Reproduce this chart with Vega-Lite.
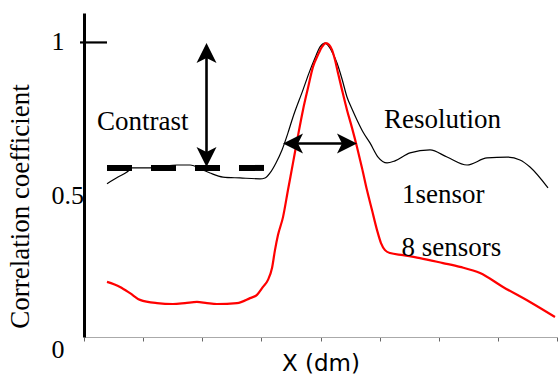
{
  "$schema": "https://vega.github.io/schema/vega-lite/v6.json",
  "width": 473,
  "height": 324,
  "autosize": {"type": "none"},
  "padding": {"left": 84, "top": 13, "right": 1, "bottom": 39},
  "config": {"view": {"stroke": null}, "background": "white"},
  "datasets": {
    "curves": [
      {"series": "1sensor", "x": 0.389, "y": 0.520},
      {"series": "1sensor", "x": 0.575, "y": 0.543},
      {"series": "1sensor", "x": 0.727, "y": 0.560},
      {"series": "1sensor", "x": 0.812, "y": 0.574},
      {"series": "1sensor", "x": 1.116, "y": 0.574},
      {"series": "1sensor", "x": 1.370, "y": 0.581},
      {"series": "1sensor", "x": 1.573, "y": 0.584},
      {"series": "1sensor", "x": 1.793, "y": 0.584},
      {"series": "1sensor", "x": 2.013, "y": 0.567},
      {"series": "1sensor", "x": 2.131, "y": 0.557},
      {"series": "1sensor", "x": 2.351, "y": 0.543},
      {"series": "1sensor", "x": 2.638, "y": 0.540},
      {"series": "1sensor", "x": 2.977, "y": 0.537},
      {"series": "1sensor", "x": 3.061, "y": 0.540},
      {"series": "1sensor", "x": 3.146, "y": 0.557},
      {"series": "1sensor", "x": 3.247, "y": 0.591},
      {"series": "1sensor", "x": 3.349, "y": 0.635},
      {"series": "1sensor", "x": 3.450, "y": 0.693},
      {"series": "1sensor", "x": 3.535, "y": 0.747},
      {"series": "1sensor", "x": 3.704, "y": 0.839},
      {"series": "1sensor", "x": 3.805, "y": 0.896},
      {"series": "1sensor", "x": 3.907, "y": 0.947},
      {"series": "1sensor", "x": 3.992, "y": 0.985},
      {"series": "1sensor", "x": 4.076, "y": 0.998},
      {"series": "1sensor", "x": 4.178, "y": 0.975},
      {"series": "1sensor", "x": 4.279, "y": 0.930},
      {"series": "1sensor", "x": 4.364, "y": 0.876},
      {"series": "1sensor", "x": 4.448, "y": 0.815},
      {"series": "1sensor", "x": 4.533, "y": 0.774},
      {"series": "1sensor", "x": 4.617, "y": 0.737},
      {"series": "1sensor", "x": 4.719, "y": 0.696},
      {"series": "1sensor", "x": 4.837, "y": 0.659},
      {"series": "1sensor", "x": 4.973, "y": 0.611},
      {"series": "1sensor", "x": 5.125, "y": 0.591},
      {"series": "1sensor", "x": 5.260, "y": 0.598},
      {"series": "1sensor", "x": 5.514, "y": 0.625},
      {"series": "1sensor", "x": 5.852, "y": 0.635},
      {"series": "1sensor", "x": 6.140, "y": 0.611},
      {"series": "1sensor", "x": 6.478, "y": 0.584},
      {"series": "1sensor", "x": 6.816, "y": 0.608},
      {"series": "1sensor", "x": 7.154, "y": 0.611},
      {"series": "1sensor", "x": 7.374, "y": 0.601},
      {"series": "1sensor", "x": 7.543, "y": 0.577},
      {"series": "1sensor", "x": 7.848, "y": 0.506},
      {"series": "8 sensors", "x": 0.389, "y": 0.187},
      {"series": "8 sensors", "x": 0.609, "y": 0.170},
      {"series": "8 sensors", "x": 0.778, "y": 0.149},
      {"series": "8 sensors", "x": 0.947, "y": 0.126},
      {"series": "8 sensors", "x": 1.235, "y": 0.115},
      {"series": "8 sensors", "x": 1.505, "y": 0.112},
      {"series": "8 sensors", "x": 1.708, "y": 0.115},
      {"series": "8 sensors", "x": 1.911, "y": 0.119},
      {"series": "8 sensors", "x": 2.080, "y": 0.115},
      {"series": "8 sensors", "x": 2.249, "y": 0.112},
      {"series": "8 sensors", "x": 2.588, "y": 0.115},
      {"series": "8 sensors", "x": 2.808, "y": 0.132},
      {"series": "8 sensors", "x": 2.926, "y": 0.143},
      {"series": "8 sensors", "x": 3.027, "y": 0.170},
      {"series": "8 sensors", "x": 3.112, "y": 0.194},
      {"series": "8 sensors", "x": 3.180, "y": 0.234},
      {"series": "8 sensors", "x": 3.230, "y": 0.295},
      {"series": "8 sensors", "x": 3.281, "y": 0.346},
      {"series": "8 sensors", "x": 3.366, "y": 0.407},
      {"series": "8 sensors", "x": 3.450, "y": 0.499},
      {"series": "8 sensors", "x": 3.535, "y": 0.591},
      {"series": "8 sensors", "x": 3.619, "y": 0.683},
      {"series": "8 sensors", "x": 3.704, "y": 0.771},
      {"series": "8 sensors", "x": 3.789, "y": 0.846},
      {"series": "8 sensors", "x": 3.873, "y": 0.917},
      {"series": "8 sensors", "x": 3.958, "y": 0.958},
      {"series": "8 sensors", "x": 4.025, "y": 0.985},
      {"series": "8 sensors", "x": 4.093, "y": 0.998},
      {"series": "8 sensors", "x": 4.144, "y": 0.992},
      {"series": "8 sensors", "x": 4.195, "y": 0.975},
      {"series": "8 sensors", "x": 4.245, "y": 0.941},
      {"series": "8 sensors", "x": 4.296, "y": 0.896},
      {"series": "8 sensors", "x": 4.364, "y": 0.839},
      {"series": "8 sensors", "x": 4.448, "y": 0.771},
      {"series": "8 sensors", "x": 4.533, "y": 0.710},
      {"series": "8 sensors", "x": 4.617, "y": 0.645},
      {"series": "8 sensors", "x": 4.702, "y": 0.574},
      {"series": "8 sensors", "x": 4.786, "y": 0.499},
      {"series": "8 sensors", "x": 4.871, "y": 0.431},
      {"series": "8 sensors", "x": 4.956, "y": 0.363},
      {"series": "8 sensors", "x": 5.023, "y": 0.319},
      {"series": "8 sensors", "x": 5.091, "y": 0.295},
      {"series": "8 sensors", "x": 5.175, "y": 0.285},
      {"series": "8 sensors", "x": 5.395, "y": 0.278},
      {"series": "8 sensors", "x": 5.683, "y": 0.268},
      {"series": "8 sensors", "x": 6.072, "y": 0.251},
      {"series": "8 sensors", "x": 6.359, "y": 0.238},
      {"series": "8 sensors", "x": 6.698, "y": 0.217},
      {"series": "8 sensors", "x": 7.087, "y": 0.170},
      {"series": "8 sensors", "x": 7.543, "y": 0.119},
      {"series": "8 sensors", "x": 7.966, "y": 0.068}
    ],
    "notes": [
      {"label": "Contrast", "x": 0.220, "y": 0.703},
      {"label": "Resolution", "x": 5.074, "y": 0.710},
      {"label": "1sensor", "x": 5.378, "y": 0.455},
      {"label": "8 sensors", "x": 5.370, "y": 0.275}
    ],
    "dash": [{"x": 0.389, "x2": 3.061, "y": 0.574}],
    "shafts": [
      {"x": 2.072, "x2": 2.072, "y": 0.975, "y2": 0.600},
      {"x": 3.500, "x2": 4.480, "y": 0.657, "y2": 0.657}
    ],
    "heads": [
      {"x": 2.072, "y": 0.998, "dir": "up"},
      {"x": 2.072, "y": 0.577, "dir": "down"},
      {"x": 3.366, "y": 0.657, "dir": "left"},
      {"x": 4.617, "y": 0.657, "dir": "right"}
    ],
    "tick": [{"x": -0.068, "x2": 0.389, "y": 1}]
  },
  "layer": [
    {
      "data": {"name": "curves"},
      "transform": [{"filter": "datum.series == '1sensor'"}],
      "mark": {"type": "line", "color": "black", "strokeWidth": 1.2, "interpolate": "monotone"},
      "encoding": {
        "x": {
          "field": "x", "type": "quantitative",
          "scale": {"domain": [0, 8], "nice": false, "zero": false},
          "axis": {
            "values": [0, 1, 2, 3, 4, 5, 6, 7, 8],
            "labels": false,
            "grid": false,
            "tickSize": 4,
            "tickColor": "#666666",
            "tickWidth": 1,
            "domainColor": "#aaaaaa",
            "domainWidth": 1.2,
            "title": "X (dm)",
            "titleFont": "DejaVu Sans",
            "titleFontSize": 23,
            "titleFontWeight": "normal",
            "titleColor": "black",
            "titleBaseline": "alphabetic",
            "titleAlign": "center",
            "titleX": 236.5,
            "titleY": 33
          }
        },
        "y": {
          "field": "y", "type": "quantitative",
          "scale": {"domain": [0, 1.1], "nice": false, "zero": false},
          "axis": {
            "values": [0, 0.5, 1],
            "grid": false,
            "ticks": false,
            "tickSize": 0,
            "domainColor": "black",
            "domainWidth": 3,
            "labelAlign": "left",
            "labelPadding": 33,
            "labelFont": "Liberation Serif",
            "labelFontSize": 26,
            "labelColor": "black",
            "labelFlush": false,
            "labelOverlap": false,
            "labelBaseline": {"condition": {"test": "datum.value == 0", "value": "top"}, "value": "middle"},
            "labelOffset": {"condition": {"test": "datum.value == 0.5", "value": 6}, "value": -1},
            "format": "~g",
            "title": "Correlation coefficient",
            "titleFont": "Liberation Serif",
            "titleFontSize": 27,
            "titleFontWeight": "normal",
            "titleColor": "black",
            "titleAngle": 270,
            "titleBaseline": "alphabetic",
            "titleAlign": "center",
            "titleX": -56,
            "titleY": 193
          }
        }
      }
    },
    {
      "data": {"name": "curves"},
      "transform": [{"filter": "datum.series == '8 sensors'"}],
      "mark": {"type": "line", "color": "#ff0000", "strokeWidth": 2.2, "interpolate": "monotone"},
      "encoding": {
        "x": {"field": "x", "type": "quantitative"},
        "y": {"field": "y", "type": "quantitative"}
      }
    },
    {
      "data": {"name": "dash"},
      "mark": {"type": "rule", "color": "black", "strokeWidth": 6, "strokeDash": [25, 19], "strokeCap": "butt"},
      "encoding": {
        "x": {"field": "x", "type": "quantitative"},
        "x2": {"field": "x2"},
        "y": {"field": "y", "type": "quantitative"}
      }
    },
    {
      "data": {"name": "shafts"},
      "mark": {"type": "rule", "color": "black", "strokeWidth": 2.6},
      "encoding": {
        "x": {"field": "x", "type": "quantitative"},
        "x2": {"field": "x2"},
        "y": {"field": "y", "type": "quantitative"},
        "y2": {"field": "y2"}
      }
    },
    {
      "data": {"name": "heads"},
      "mark": {"type": "point", "filled": true, "color": "black", "opacity": 1, "size": 400, "strokeWidth": 0},
      "encoding": {
        "x": {"field": "x", "type": "quantitative"},
        "y": {"field": "y", "type": "quantitative"},
        "shape": {
          "field": "dir", "type": "nominal", "legend": null,
          "scale": {
            "domain": ["up", "down", "left", "right"],
            "range": ["M0,0L-1,2L0,1.5L1,2Z", "M0,0L-1,-2L0,-1.5L1,-2Z", "M0,0L2,-1L1.5,0L2,1Z", "M0,0L-2,-1L-1.5,0L-2,1Z"]
          }
        }
      }
    },
    {
      "data": {"name": "notes"},
      "mark": {"type": "text", "font": "Liberation Serif", "fontSize": 27, "align": "left", "baseline": "alphabetic", "color": "black"},
      "encoding": {
        "x": {"field": "x", "type": "quantitative"},
        "y": {"field": "y", "type": "quantitative"},
        "text": {"field": "label"}
      }
    },
    {
      "data": {"name": "tick"},
      "mark": {"type": "rule", "color": "black", "strokeWidth": 2.2},
      "encoding": {
        "x": {"field": "x", "type": "quantitative"},
        "x2": {"field": "x2"},
        "y": {"field": "y", "type": "quantitative"}
      }
    }
  ]
}
